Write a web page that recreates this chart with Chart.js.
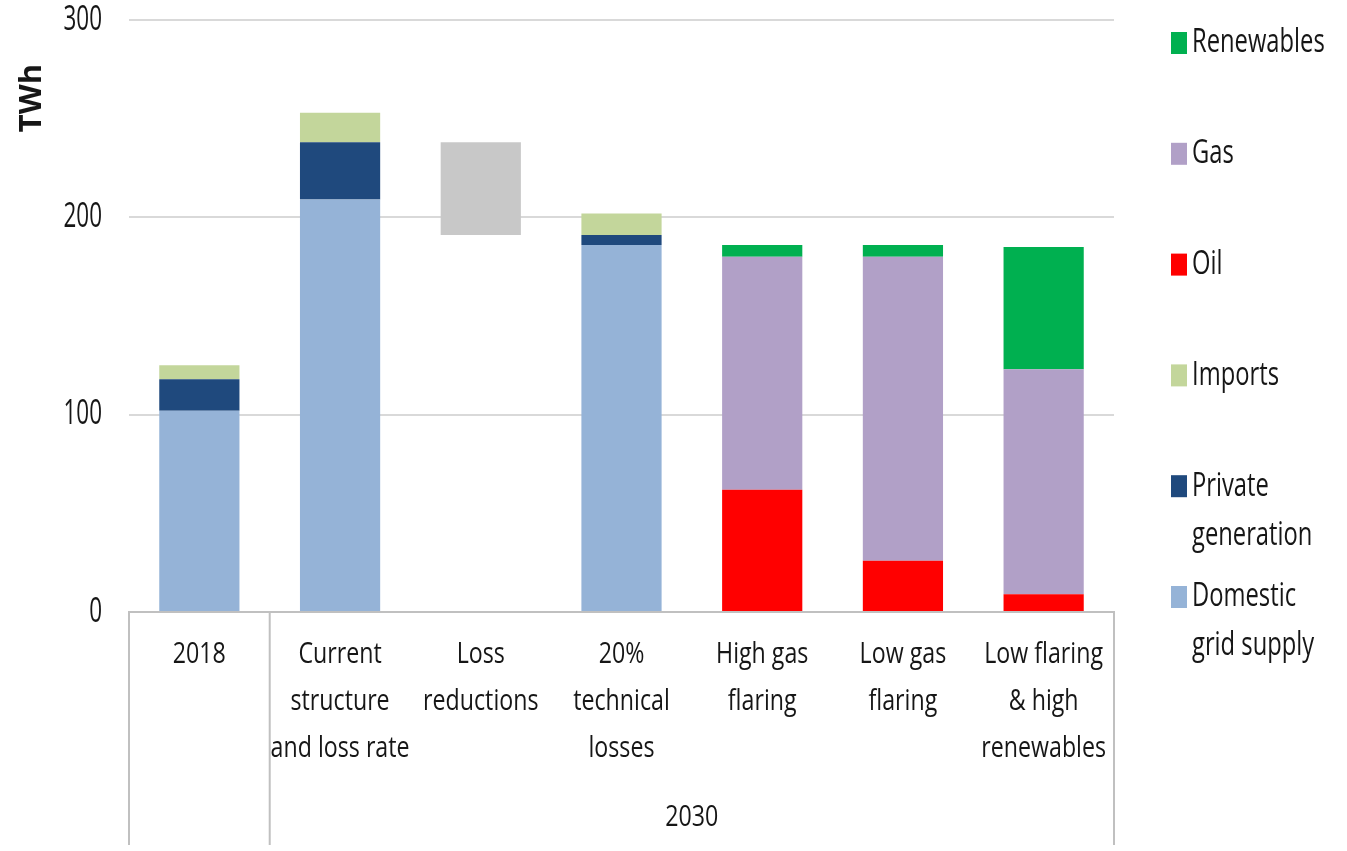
<!DOCTYPE html>
<html>
    <head>
        <meta charset="UTF-8" />
        <title>Electricity supply 2018 and 2030</title>
        <script src="https://cdn.jsdelivr.net/npm/chart.js@4.4.2/dist/chart.umd.min.js"></script>
        <style>
            body {
                margin: 0;
                background: #ffffff;
            }
        </style>
    </head>
    <body>
        <canvas id="supplyChart" width="1347" height="851"></canvas>

        <script>
            // --- data (TWh) ---
            var categories = [
                "2018",
                ["Current", "structure", "and loss rate"],
                ["Loss", "reductions"],
                ["20%", "technical", "losses"],
                ["High gas", "flaring"],
                ["Low gas", "flaring"],
                ["Low flaring", "& high", "renewables"],
            ];
            var domestic = [102, 209, null, 186, null, null, null];
            var privateGen = [16, 29, null, 5, null, null, null];
            var imports = [7, 15, null, 11, null, null, null];
            var oil = [null, null, null, null, 62, 26, 9];
            var gas = [null, null, null, null, 118, 154, 114];
            var renewables = [null, null, null, null, 6, 6, 62];
            var lossReductions = [null, null, [191, 238], null, null, null, null];
            var yTicks = [0, 100, 200, 300];
            var groupLabel = "2030";

            var fontFamily = "'Open Sans', 'Liberation Sans', sans-serif";
            var textColor = "#161616";
            var lineColor = "#c0c0c0";

            // text drawn narrow: font size sets the height, sx squeezes it horizontally
            function narrowText(ctx, text, x, y, size, sx, align) {
                ctx.save();
                ctx.font = size + "px " + fontFamily;
                ctx.textAlign = align || "center";
                ctx.textBaseline = "middle";
                ctx.translate(x, y);
                ctx.scale(sx, 1);
                ctx.fillText(text, 0, 0);
                ctx.restore();
            }

            function wrapText(ctx, text, maxWidth) {
                var words = text.split(" ");
                var lines = [];
                var line = "";
                for (var i = 0; i < words.length; i++) {
                    var test = line ? line + " " + words[i] : words[i];
                    if (line && ctx.measureText(test).width > maxWidth) {
                        lines.push(line);
                        line = words[i];
                    } else {
                        line = test;
                    }
                }
                lines.push(line);
                return lines;
            }

            // tick labels, separators under the category axis, "2030", axis title and legend
            var decorations = {
                id: "decorations",
                afterDraw: function (chart) {
                    var ctx = chart.ctx;
                    var x = chart.scales.x;
                    var y = chart.scales.y;
                    var area = chart.chartArea;
                    var half = (x.getPixelForValue(1) - x.getPixelForValue(0)) / 2;
                    var edges = [
                        x.getPixelForValue(0) - half,
                        x.getPixelForValue(1) - half,
                        x.getPixelForValue(categories.length - 1) + half,
                    ];
                    var bottom = chart.height - 6;

                    ctx.save();
                    ctx.fillStyle = textColor;

                    // value axis labels
                    y.ticks.forEach(function (t) {
                        narrowText(ctx, String(t.value), 102, y.getPixelForValue(t.value), 34, 0.66, "right");
                    });

                    // category labels
                    chart.data.labels.forEach(function (label, i) {
                        var lines = Array.isArray(label) ? label : [label];
                        var px = x.getPixelForValue(i);
                        lines.forEach(function (line, j) {
                            narrowText(ctx, line, px, 655 + j * 47, 29, 0.8);
                        });
                    });

                    ctx.strokeStyle = lineColor;
                    ctx.lineWidth = 2;
                    edges.forEach(function (px) {
                        ctx.beginPath();
                        ctx.moveTo(px, area.bottom);
                        ctx.lineTo(px, bottom);
                        ctx.stroke();
                    });

                    narrowText(ctx, groupLabel, (edges[1] + edges[2]) / 2, 818, 29, 0.8);

                    // axis title
                    ctx.save();
                    ctx.translate(32, 98);
                    ctx.rotate(-Math.PI / 2);
                    ctx.font = "bold 31px " + fontFamily;
                    ctx.textAlign = "center";
                    ctx.textBaseline = "middle";
                    ctx.fillText("TWh", 0, 0);
                    ctx.restore();

                    // legend, top to bottom in reverse stacking order
                    var items = chart.data.datasets.filter(function (ds) {
                        return !ds.noLegend;
                    }).reverse();
                    ctx.font = "33px " + fontFamily;
                    items.forEach(function (ds, i) {
                        var cy = 43 + i * 110.8;
                        ctx.fillStyle = ds.backgroundColor;
                        ctx.fillRect(1171, cy - 11, 16, 22);
                        ctx.fillStyle = textColor;
                        wrapText(ctx, ds.label, 135 / 0.72).forEach(function (line, j) {
                            narrowText(ctx, line, 1192, cy + j * 49, 33, 0.72, "left");
                        });
                        ctx.font = "33px " + fontFamily;
                    });
                    ctx.restore();
                },
            };

            function series(label, data, color) {
                return {
                    label: label,
                    data: data,
                    backgroundColor: color,
                    borderWidth: 0,
                };
            }

            var datasets = [
                series("Domestic grid supply", domestic, "#95b3d7"),
                series("Private generation", privateGen, "#1f497d"),
                series("Imports", imports, "#c3d69b"),
                series("Oil", oil, "#ff0000"),
                series("Gas", gas, "#b1a0c7"),
                series("Renewables", renewables, "#00b050"),
            ];
            var loss = series("Loss reductions", lossReductions, "#c8c8c8");
            loss.noLegend = true;
            datasets.push(loss);

            var ctx = document.getElementById("supplyChart").getContext("2d");
            var supplyChart = new Chart(ctx, {
                type: "bar",
                data: {
                    labels: categories,
                    datasets: datasets,
                },
                plugins: [decorations],
                options: {
                    responsive: false,
                    animation: false,
                    categoryPercentage: 0.57,
                    barPercentage: 1,
                    layout: {
                        padding: { top: 20, right: 233, left: 0, bottom: 0 },
                    },
                    plugins: {
                        legend: { display: false },
                        tooltip: { enabled: false },
                    },
                    scales: {
                        x: {
                            stacked: true,
                            afterFit: function (scale) {
                                scale.height = 239;
                                scale.paddingLeft = 0;
                                scale.paddingRight = 0;
                            },
                            grid: { display: false, drawTicks: false },
                            border: { display: true, color: lineColor, width: 2 },
                            ticks: { display: false },
                        },
                        y: {
                            stacked: true,
                            min: 0,
                            max: 300,
                            afterFit: function (scale) {
                                scale.width = 129;
                                scale.paddingTop = 0;
                                scale.paddingBottom = 0;
                            },
                            afterBuildTicks: function (scale) {
                                scale.ticks = yTicks.map(function (v) {
                                    return { value: v };
                                });
                            },
                            grid: { color: "#d9d9d9", lineWidth: 2, drawTicks: false },
                            border: { display: false },
                            ticks: { display: false },
                        },
                    },
                },
            });
        </script>
    </body>
</html>
